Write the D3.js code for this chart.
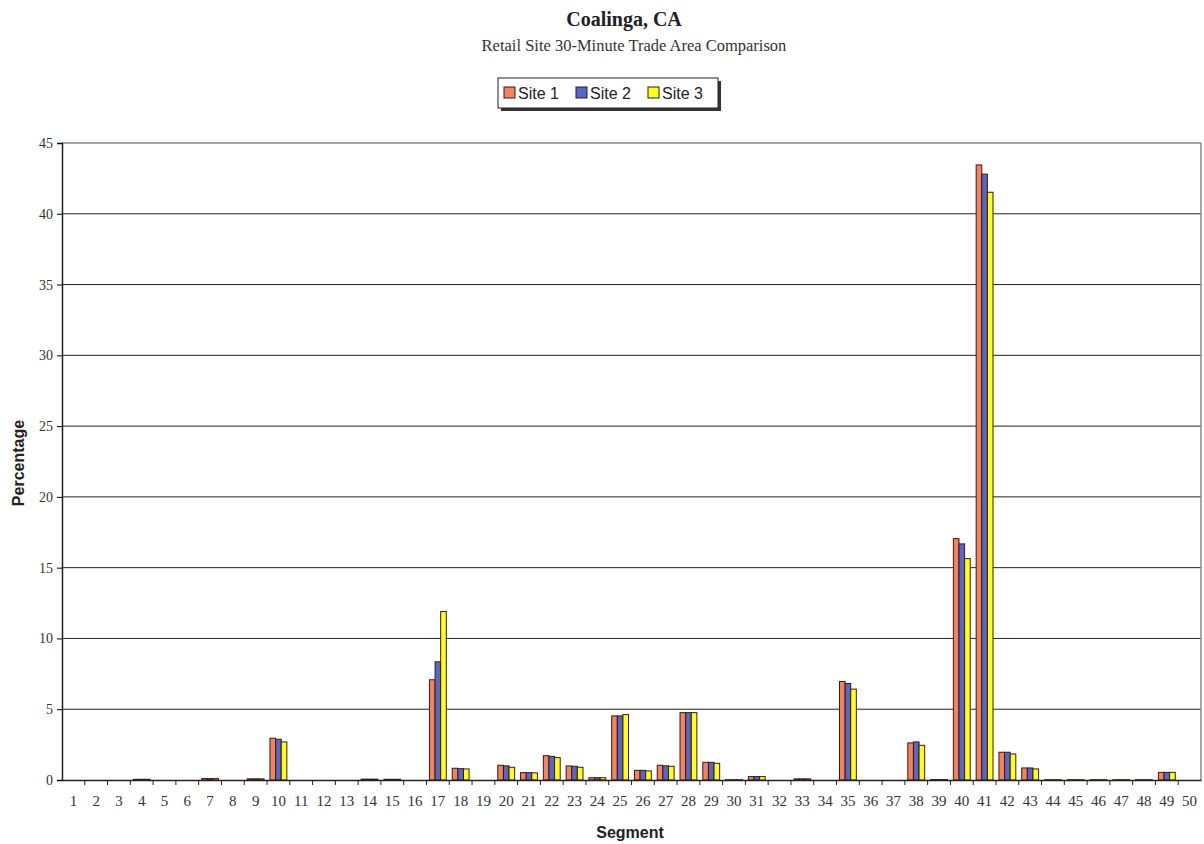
<!DOCTYPE html>
<html>
<head>
<meta charset="utf-8">
<script src="https://cdn.jsdelivr.net/npm/d3@7"></script>
<style>
  body { margin: 0; background: #fff; }
  svg { display: block; }
</style>
</head>
<body>
<svg id="chart" width="1204" height="844"></svg>
<script>
const segments = d3.range(1, 51).map(String);
const seriesNames = ["Site 1", "Site 2", "Site 3"];
const seriesColors = ["#F4825C", "#5767C9", "#FFFF1A"];
const yTicks = [0, 5, 10, 15, 20, 25, 30, 35, 40, 45];

// values per segment 1..50
const site1 = [0, 0, 0, 0.05, 0, 0, 0.1, 0, 0.08, 2.95,
               0, 0, 0, 0.06, 0.05, 0, 7.08, 0.83, 0, 1.04,
               0.52, 1.72, 0.99, 0.16, 4.53, 0.68, 1.04, 4.76, 1.25, 0.02,
               0.24, 0, 0.08, 0, 6.96, 0, 0, 2.62, 0.03, 17.05,
               43.45, 1.96, 0.85, 0.02, 0.02, 0.02, 0.02, 0.02, 0.54, 0];
const site2 = [0, 0, 0, 0.05, 0, 0, 0.1, 0, 0.08, 2.88,
               0, 0, 0, 0.06, 0.05, 0, 8.35, 0.8, 0, 1.0,
               0.52, 1.67, 0.97, 0.16, 4.53, 0.68, 1.0, 4.76, 1.25, 0.02,
               0.24, 0, 0.08, 0, 6.82, 0, 0, 2.69, 0.03, 16.68,
               42.8, 1.96, 0.85, 0.02, 0.02, 0.02, 0.02, 0.02, 0.54, 0];
const site3 = [0, 0, 0, 0.05, 0, 0, 0.1, 0, 0.08, 2.69,
               0, 0, 0, 0.06, 0.05, 0, 11.9, 0.78, 0, 0.9,
               0.5, 1.58, 0.9, 0.16, 4.62, 0.64, 0.97, 4.76, 1.18, 0.02,
               0.24, 0, 0.08, 0, 6.42, 0, 0, 2.45, 0.03, 15.64,
               41.52, 1.84, 0.78, 0.02, 0.02, 0.02, 0.02, 0.02, 0.54, 0];
const seriesValues = [site1, site2, site3];

const svg = d3.select("#chart");
const plotL = 62, plotR = 1201, plotT = 143, plotB = 780;

const x = d3.scaleBand().domain(segments).range([plotL, plotR]).paddingInner(0.26).paddingOuter(0.13);
const xOuter = d3.scaleBand().domain(segments).range([plotL, plotR]);
const xs = d3.scaleBand().domain(seriesNames).range([0, x.bandwidth()]);
const y = d3.scaleLinear().domain([0, 45]).range([plotB, plotT]);

// Title
svg.append("text").attr("x", 624).attr("y", 26).attr("text-anchor", "middle")
  .attr("font-family", "Liberation Serif, Times New Roman, serif").attr("font-weight", "bold")
  .attr("font-size", 20).attr("fill", "#222").text("Coalinga, CA");
svg.append("text").attr("x", 634).attr("y", 51).attr("text-anchor", "middle")
  .attr("font-family", "Liberation Serif, Times New Roman, serif")
  .attr("font-size", 16.5).attr("fill", "#333").text("Retail Site 30-Minute Trade Area Comparison");

// Legend
const lg = svg.append("g");
lg.append("rect").attr("x", 501).attr("y", 81).attr("width", 220).attr("height", 30).attr("fill", "#333");
lg.append("rect").attr("x", 498).attr("y", 78).attr("width", 220).attr("height", 30)
  .attr("fill", "#fff").attr("stroke", "#222").attr("stroke-width", 1);
const legendX = [504, 576, 648];
seriesNames.forEach((n, i) => {
  lg.append("rect").attr("x", legendX[i]).attr("y", 87).attr("width", 11).attr("height", 11)
    .attr("fill", seriesColors[i]).attr("stroke", "#222").attr("stroke-width", 1);
  lg.append("text").attr("x", legendX[i] + 14).attr("y", 99)
    .attr("font-family", "Liberation Sans, Arial, sans-serif").attr("font-size", 16)
    .attr("fill", "#222").text(n);
});

// Gridlines
svg.append("g").selectAll("line").data(yTicks.filter(t => t > 0 && t < 45)).join("line")
  .attr("x1", plotL).attr("x2", plotR).attr("y1", d => y(d)).attr("y2", d => y(d))
  .attr("stroke", "#222").attr("stroke-width", 1);
// plot frame top/right
svg.append("line").attr("x1", plotL).attr("x2", plotR).attr("y1", plotT).attr("y2", plotT)
  .attr("stroke", "#888").attr("stroke-width", 1.5);
svg.append("line").attr("x1", plotR).attr("x2", plotR).attr("y1", plotT).attr("y2", plotB)
  .attr("stroke", "#888").attr("stroke-width", 1.5);

// Bars
const groups = svg.append("g").selectAll("g").data(segments).join("g")
  .attr("transform", d => `translate(${x(d)},0)`);
groups.selectAll("rect").data((d, i) => seriesNames.map((s, k) => ({ s, k, v: seriesValues[k][i] })))
  .join("rect")
  .filter(d => d.v > 0)
  .attr("x", d => xs(d.s))
  .attr("width", xs.bandwidth())
  .attr("y", d => y(d.v))
  .attr("height", d => y(0) - y(d.v))
  .attr("fill", d => seriesColors[d.k])
  .attr("stroke", "#3a1a12").attr("stroke-width", 1);

// Axes
const yAxis = d3.axisLeft(y).tickValues(yTicks).tickSize(5).tickPadding(4);
const yg = svg.append("g").attr("transform", `translate(${plotL},0)`).call(yAxis);
yg.select(".domain").attr("stroke", "#222").attr("stroke-width", 1.5);
yg.selectAll("text").attr("font-family", "Liberation Serif, Times New Roman, serif")
  .attr("font-size", 14).attr("fill", "#333");

const xAxis = d3.axisBottom(xOuter).tickSize(0).tickPadding(15);
const xg = svg.append("g").attr("transform", `translate(0,${plotB})`).call(xAxis);
xg.select(".domain").attr("stroke", "#222").attr("stroke-width", 1.5);
xg.selectAll("text").attr("font-family", "Liberation Serif, Times New Roman, serif")
  .attr("font-size", 15).attr("fill", "#333");
// category boundary ticks
svg.append("g").selectAll("line").data(segments.slice(1)).join("line")
  .attr("x1", d => xOuter(d)).attr("x2", d => xOuter(d))
  .attr("y1", plotB).attr("y2", plotB + 5).attr("stroke", "#222");

// Axis titles
svg.append("text").attr("transform", "translate(24,463) rotate(-90)").attr("text-anchor", "middle")
  .attr("font-family", "Liberation Sans, Arial, sans-serif").attr("font-weight", "bold")
  .attr("font-size", 16).attr("fill", "#222").text("Percentage");
svg.append("text").attr("x", 630).attr("y", 838).attr("text-anchor", "middle")
  .attr("font-family", "Liberation Sans, Arial, sans-serif").attr("font-weight", "bold")
  .attr("font-size", 16).attr("fill", "#222").text("Segment");
</script>
</body>
</html>
